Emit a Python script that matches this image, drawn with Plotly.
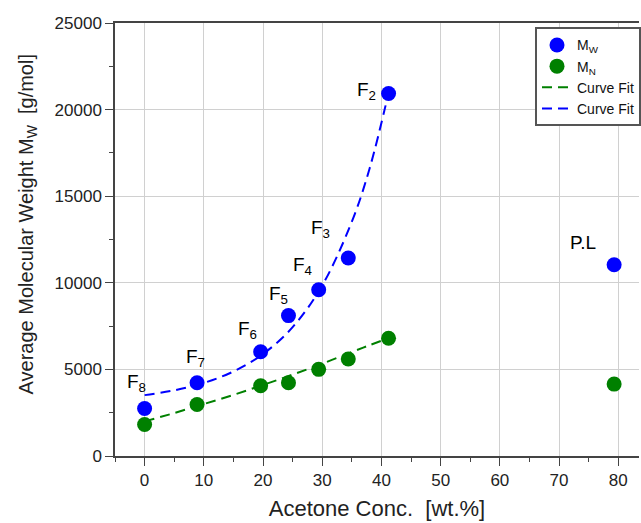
import plotly.graph_objects as go

# Data
acetone = [0, 8.86, 19.6, 24.3, 29.4, 34.4, 41.2, 79.3]
mw = [2745, 4228, 6023, 8107, 9596, 11431, 20928, 11044]
mn = [1818, 2977, 4054, 4228, 5003, 5600, 6799, 4152]
labels = ["F<sub>8</sub>", "F<sub>7</sub>", "F<sub>6</sub>", "F<sub>5</sub>",
          "F<sub>4</sub>", "F<sub>3</sub>", "F<sub>2</sub>", "P.L"]

fit_x = [0, 5, 10, 15, 20, 25, 30, 35, 38, 41.2]
fit_mw = [3515, 3790, 4220, 4880, 5890, 7440, 9850, 13530, 16600, 20970]
fit_mn = [2000, 2480, 3000, 3530, 4100, 4700, 5330, 6000, 6400, 6800]

x_title = "Acetone Conc.  [wt.%]"
y_title = "Average Molecular Weight M<sub>W</sub>  [g/mol]"

# label offsets (pixels) relative to the Mw marker
label_dx = [-8, -2, -13, -10, -16, -28, -22, -31]
label_dy = [25, 25, 22, 21, 24, 29, 3, 22]

BLUE = "#0000ff"
GREEN = "#008000"
FONT = "Arial, Liberation Sans, sans-serif"

fig = go.Figure()
fig.add_trace(go.Scatter(x=fit_x, y=fit_mn, mode="lines", name="Curve Fit",
                         line=dict(color=GREEN, width=2, dash="10px,6px", shape="spline"),
                         legendrank=3))
fig.add_trace(go.Scatter(x=fit_x, y=fit_mw, mode="lines", name="Curve Fit",
                         line=dict(color=BLUE, width=2, dash="10px,6px", shape="spline"),
                         legendrank=4))
fig.add_trace(go.Scatter(x=acetone, y=mw, mode="markers", name="M<sub>W</sub>",
                         marker=dict(color=BLUE, size=15), legendrank=1))
fig.add_trace(go.Scatter(x=acetone, y=mn, mode="markers", name="M<sub>N</sub>",
                         marker=dict(color=GREEN, size=15), legendrank=2))

for xv, yv, t, dx, dy in zip(acetone, mw, labels, label_dx, label_dy):
    fig.add_annotation(x=xv, y=yv, text=t, showarrow=False, xshift=dx, yshift=dy,
                       font=dict(size=19, color="black", family=FONT))

# y-axis title (placed as a rotated annotation, slightly above plot centre as in the reference)
fig.add_annotation(xref="paper", yref="paper", x=-0.167, y=0.536, text=y_title,
                   textangle=-90, showarrow=False, xanchor="center", yanchor="middle",
                   font=dict(size=20, color="#222", family=FONT))

axis_common = dict(
    showline=True, linecolor="#444", linewidth=1.5,
    ticks="outside", ticklen=8, tickwidth=1.2, tickcolor="#444",
    showgrid=True, gridcolor="#d0d0d0", gridwidth=1, zeroline=False,
    tickfont=dict(size=17, color="#222", family=FONT),
)

fig.update_xaxes(range=[-5, 83.5], dtick=10, tick0=0, mirror=True,
                 minor=dict(ticks="outside", ticklen=4, dtick=5, tick0=0, tickcolor="#444", showgrid=False),
                 title=dict(text=x_title, font=dict(size=22, color="#222", family=FONT), standoff=11),
                 **axis_common)
fig.update_yaxes(range=[0, 25000], dtick=5000, tick0=0, tickformat="d",
                 minor=dict(ticks="outside", ticklen=4, dtick=2500, tick0=0, tickcolor="#444", showgrid=False),
                 **axis_common)

fig.update_layout(
    width=641, height=523,
    margin=dict(l=115, r=0, t=23, b=67),
    plot_bgcolor="white", paper_bgcolor="white",
    font=dict(family=FONT),
    legend=dict(x=0.802, y=0.99, xanchor="left", yanchor="top",
                bgcolor="white", bordercolor="#555", borderwidth=2,
                font=dict(size=14, color="#111", family=FONT),
                tracegroupgap=0, itemwidth=30),
)

fig.write_html("out.html")
